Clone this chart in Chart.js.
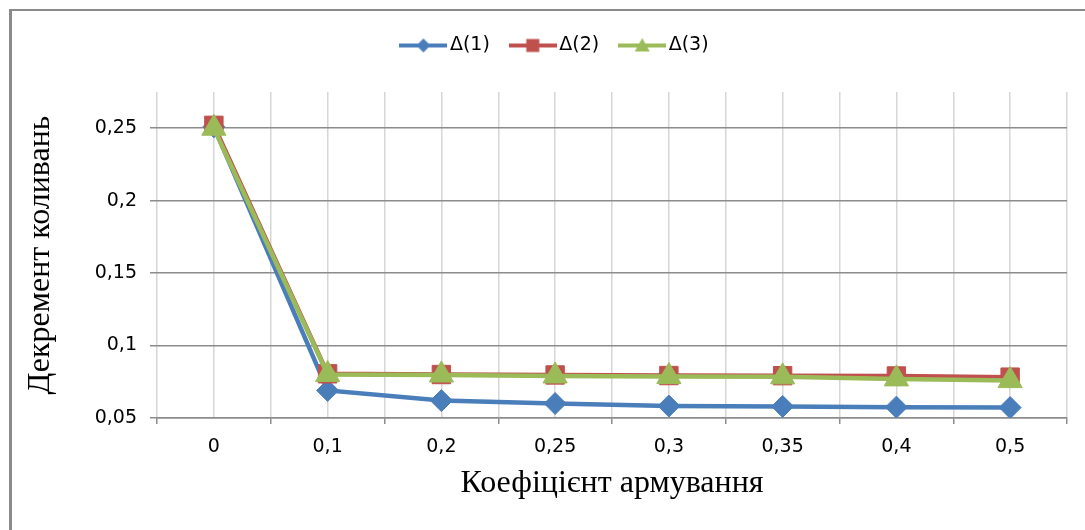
<!DOCTYPE html>
<html>
<head>
<meta charset="utf-8">
<script src="https://cdn.jsdelivr.net/npm/chart.js@4/dist/chart.umd.min.js"></script>
<style>
  html, body { margin: 0; padding: 0; background: #ffffff; }
  #wrap { position: relative; width: 1085px; height: 530px; overflow: hidden; background: #ffffff; }
  #frame { position: absolute; left: 9px; top: 9px; width: 1200px; height: 700px;
           border-left: 3px solid #8a8a8a; border-top: 2px solid #8a8a8a; box-sizing: border-box; }
  canvas { position: absolute; left: 0; top: 0; }
</style>
</head>
<body>
<div id="wrap">
  <div id="frame"></div>
  <canvas id="c" width="1085" height="530"></canvas>
</div>
<script>
// ---- data ----
const categories = ['0', '0,1', '0,2', '0,25', '0,3', '0,35', '0,4', '0,5'];
const seriesNames = ['Δ(1)', 'Δ(2)', 'Δ(3)'];
const delta1 = [0.251, 0.069, 0.062, 0.060, 0.0583, 0.058, 0.0575, 0.0572];
const delta2 = [0.252, 0.0805, 0.080, 0.0797, 0.0793, 0.0792, 0.079, 0.0782];
const delta3 = [0.250, 0.080, 0.0797, 0.079, 0.0786, 0.0784, 0.077, 0.0758];
const yTicks = [0.05, 0.1, 0.15, 0.2, 0.25];
const xTitle = 'Коефіцієнт армування';
const yTitle = 'Декремент коливань';

const colors = ['#4a7ebb', '#c0504d', '#9bbb59'];
const markers = ['rectRot', 'rect', 'triangle'];
const radii = [11, 13, 14];

function toPoints(arr) { return arr.map((v, i) => ({ x: i, y: v })); }
function fmt(v) { return String(+v.toFixed(3)).replace('.', ','); }
function isInt(v) { return Math.abs(v - Math.round(v)) < 1e-6; }

// legend icons (line + marker)
function makeIcon(idx) {
  const c = document.createElement('canvas');
  c.width = 48; c.height = 24;
  const g = c.getContext('2d');
  g.strokeStyle = colors[idx]; g.fillStyle = colors[idx];
  g.lineWidth = 4;
  g.beginPath(); g.moveTo(0, 12); g.lineTo(48, 12); g.stroke();
  g.beginPath();
  if (idx === 0) { g.moveTo(24, 5); g.lineTo(31, 12); g.lineTo(24, 19); g.lineTo(17, 12); }
  else if (idx === 1) { g.rect(17.5, 5.5, 13, 13); }
  else { g.moveTo(24, 4.5); g.lineTo(31.5, 18); g.lineTo(16.5, 18); }
  g.closePath(); g.fill();
  return c;
}
const icons = [0, 1, 2].map(makeIcon);

const layoutTweak = {
  id: 'layoutTweak',
  beforeInit(chart) {
    const fit = chart.legend.fit;
    chart.legend.fit = function () { fit.call(this); this.height = 82; };
  },
  afterLayout(chart) {
    chart.legend.left += 19;
    chart.legend.right += 19;
  }
};

const datasets = [delta1, delta2, delta3].map((arr, i) => ({
  label: seriesNames[i],
  data: toPoints(arr),
  borderColor: colors[i],
  backgroundColor: colors[i],
  borderWidth: 4.5,
  pointStyle: markers[i],
  pointRadius: radii[i],
  pointHoverRadius: radii[i],
  pointBorderWidth: 1,
  pointBorderColor: colors[i],
  pointBackgroundColor: colors[i],
  tension: 0,
  order: 3 - i
}));

new Chart(document.getElementById('c'), {
  type: 'line',
  data: { datasets },
  plugins: [layoutTweak],
  options: {
    responsive: false,
    animation: false,
    layout: { padding: { left: 10, right: 18, top: 10, bottom: 0 } },
    plugins: {
      tooltip: { enabled: false },
      legend: {
        position: 'top',
        labels: {
          usePointStyle: true,
          pointStyleWidth: 34,
          padding: 26,
          color: '#000',
          font: { family: 'DejaVu Sans', size: 19 },
          generateLabels: (chart) => seriesNames.map((n, i) => ({
            text: n, datasetIndex: i, pointStyle: icons[i], hidden: false,
            fillStyle: 'transparent', strokeStyle: 'transparent', lineWidth: 0, fontColor: '#000'
          }))
        }
      }
    },
    scales: {
      x: {
        type: 'linear',
        min: -0.5, max: categories.length - 0.5,
        afterFit: (s) => { s.height = 112; },
        ticks: {
          stepSize: 0.5, autoSkip: false, maxRotation: 0, minRotation: 0, maxTicksLimit: 100,
          padding: 12, color: '#000',
          font: { family: 'DejaVu Sans', size: 19 },
          callback: (v) => isInt(v) ? categories[Math.round(v)] : ''
        },
        grid: {
          z: -2, color: '#d6d6d6', lineWidth: 1.5, tickLength: 6,
          tickColor: (ctx) => (ctx.tick && isInt(ctx.tick.value)) ? 'rgba(0,0,0,0)' : '#8c8c8c'
        },
        border: { display: true, color: '#8c8c8c', width: 1.5 },
        title: {
          display: true, text: xTitle, color: '#000',
          font: { family: 'Liberation Serif', size: 32 },
          padding: { top: 0, bottom: 27 }
        }
      },
      y: {
        type: 'linear',
        min: 0.05, max: 0.275,
        afterFit: (s) => { s.width = 147; },
        afterBuildTicks: (s) => { s.ticks = yTicks.map(v => ({ value: v })); },
        ticks: {
          stepSize: 0.05, includeBounds: false, padding: 13, color: '#000',
          font: { family: 'DejaVu Sans', size: 19 },
          callback: (v) => fmt(v)
        },
        grid: { z: -1, color: '#8c8c8c', lineWidth: 1.5, tickLength: 7, tickColor: '#8c8c8c' },
        border: { display: false },
        title: {
          display: true, text: yTitle, color: '#000',
          font: { family: 'Liberation Serif', size: 32 },
          padding: { top: 11, bottom: 0 }
        }
      }
    }
  }
});
</script>
</body>
</html>
